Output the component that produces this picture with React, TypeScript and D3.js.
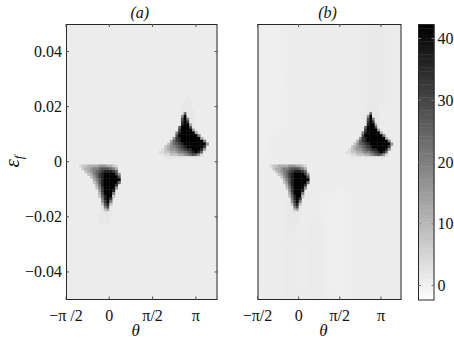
import * as d3 from 'd3'

const PI = Math.PI

// axis domains
const thetaDomain: [number, number] = [-PI / 2, (5 * PI) / 4]
const epsDomain: [number, number] = [-0.05, 0.05]
const colorDomain: [number, number] = [-2.35, 42.35]

// tick values and labels
const epsTicks = [-0.04, -0.02, 0, 0.02, 0.04]
const epsTickLabels = ['−0.04', '−0.02', '0', '0.02', '0.04']
const thetaTicks = [-PI / 2, 0, PI / 2, PI]
const thetaTickLabelsA = ['−π /2', '0', 'π/2', 'π']
const thetaTickLabelsB = ['−π/2', '0', 'π/2', 'π']
const colorTicks = [0, 10, 20, 30, 40]

// heatmap cells: 0.1 rad by 0.001 in eps_f
const cellTheta = 0.1
const cellEps = 0.001
const backgroundLevel = 1

// blob near theta = 0, eps_f < 0. columns from theta = -1.1, rows from eps_f = 0 downward
// '.' background, ',' faint, digits d -> 4d, '#' -> 42
const lowerBlobTheta0 = -1.1
const lowerBlobEpsTop = 0
const lowerBlobRows = [
  '................',
  '12233334443321..',
  '.2334556777653..',
  '..234567899986..',
  '...235689####84.',
  '....24689#####7.',
  '.....3579######.',
  '.....2479#####6.',
  '......369####8..',
  '......258####4..',
  '.......48###9...',
  '.......37###5...',
  '.......269##2...',
  '........59#8....',
  '........48#5....',
  '........2792....',
  '........,57,....',
  '........,23,....',
  '........,,,,....',
  '.......,,,,,....',
  '.......,,,,.....',
  '.......,,,,.....',
  '........,,......',
]

// blob near theta = pi, eps_f > 0. columns from theta = 1.6, rows from eps_f = 0.024 downward
const upperBlobTheta0 = 1.6
const upperBlobEpsTop = 0.024
const upperBlobRows = [
  '............,.......',
  '...........,,.......',
  '...........,,,......',
  '..........,,,,......',
  '..........,,,,......',
  '..........,,,,,.....',
  '..........,6,,,.....',
  '..........4#,,,.....',
  '..........7#5,,.....',
  '..........8#8,,.....',
  '..........9##3,.....',
  '.........6###7,.....',
  '.........8####4,....',
  '........59#####3....',
  '........7#######5...',
  '.......489#######3..',
  '......3689########5.',
  '.....246789########4',
  '....23456789######8.',
  '...12344567899###94.',
  '..1122334556789#96,.',
  '...,11222334567641..',
  '....,,,,,,,,,,,,,...',
]

// faint ridge along eps_f = 0 in panel (a)
const ridgeTheta = [-PI / 2, (5 * PI) / 4]
const ridgeEps = [-0.0004, 0.0004]
const ridgeLevel = 1.35

// panel (b) slowly varying background: columns of 0.5 rad from -pi/2, rows of 0.01 from eps_f = 0.05
const bgTheta0 = -PI / 2
const bgCellTheta = 0.5
const bgCellEps = 0.01
const bgRowsB = [
  'llmmmmmmddm',
  'llmmmmmmddm',
  'llmmmmmmddm',
  'llmmmmmmdmm',
  'lmmmmmmmmmm',
  'mmmmmmmmmmm',
  'mmdmmllmmmm',
  'mmdmdllmmmm',
  'mmdmdllmmmm',
  'mmdmdllmmmm',
]
const bgLevels: Record<string, number> = { l: 0.5, m: 1, d: 1.5 }

const levelOf = (ch: string): number | null => {
  if (ch === '.') return null
  if (ch === ',') return 1.7
  if (ch === '#') return 42
  return +ch * 4
}

const color = d3.scaleLinear<string>().domain(colorDomain).range(['#ffffff', '#000000']).clamp(true)

const FONT = "'Liberation Serif', 'DejaVu Serif', serif"
const TOP = 24
const BOTTOM = 299.5

const yScale = d3.scaleLinear().domain(epsDomain).range([BOTTOM, TOP])

type Cell = { t0: number; t1: number; e0: number; e1: number; v: number }

const blobCells = (rows: string[], theta0: number, epsTop: number): Cell[] => {
  const cells: Cell[] = []
  rows.forEach((row, j) => {
    row.split('').forEach((ch, i) => {
      const v = levelOf(ch)
      if (v === null) return
      const t0 = theta0 + i * cellTheta
      const e1 = epsTop - j * cellEps
      cells.push({ t0, t1: t0 + cellTheta, e0: e1 - cellEps, e1, v })
    })
  })
  return cells
}

const Panel = ({ id, left, right, tickLabels, title, showY, ridge, bgRows }: {
  id: string; left: number; right: number; tickLabels: string[]; title: string
  showY: boolean; ridge: boolean; bgRows?: string[]
}) => {
  const x = d3.scaleLinear().domain(thetaDomain).range([left, right])
  const cells = [
    ...blobCells(lowerBlobRows, lowerBlobTheta0, lowerBlobEpsTop),
    ...blobCells(upperBlobRows, upperBlobTheta0, upperBlobEpsTop),
  ]
  const bgCells: Cell[] = []
  if (bgRows) {
    bgRows.forEach((row, j) => {
      row.split('').forEach((ch, i) => {
        const t0 = bgTheta0 + i * bgCellTheta
        const e1 = epsDomain[1] - j * bgCellEps
        bgCells.push({ t0, t1: t0 + bgCellTheta, e0: e1 - bgCellEps, e1, v: bgLevels[ch] })
      })
    })
  }
  const rectOf = (c: Cell, k: number, pad = 0.4) => (
    <rect
      key={k}
      x={x(c.t0)}
      y={yScale(c.e1)}
      width={x(c.t1) - x(c.t0) + pad}
      height={yScale(c.e0) - yScale(c.e1) + pad}
      fill={color(c.v)}
    />
  )
  const tl = 3
  return (
    <g>
      <defs>
        <clipPath id={`clip-${id}`}>
          <rect x={left} y={TOP} width={right - left} height={BOTTOM - TOP} />
        </clipPath>
        <filter id={`soft-${id}`} x="-5%" y="-5%" width="110%" height="110%">
          <feGaussianBlur stdDeviation={0.6} />
        </filter>
        <filter id={`bgsoft-${id}`} x="-20%" y="-20%" width="140%" height="140%">
          <feGaussianBlur stdDeviation={5} />
        </filter>
      </defs>
      <g clipPath={`url(#clip-${id})`}>
        <rect x={left - 10} y={TOP - 10} width={right - left + 20} height={BOTTOM - TOP + 20} fill={color(backgroundLevel)} />
        {bgRows && <g filter={`url(#bgsoft-${id})`}>{bgCells.map((c, k) => rectOf(c, k, 0.5))}</g>}
        <g filter={`url(#soft-${id})`}>
          {ridge && rectOf({ t0: ridgeTheta[0], t1: ridgeTheta[1], e0: ridgeEps[0], e1: ridgeEps[1], v: ridgeLevel }, -1, 0)}
          {cells.map((c, k) => rectOf(c, k))}
        </g>
      </g>
      <rect x={left + 0.5} y={TOP + 0.5} width={right - left - 1} height={BOTTOM - TOP - 0.5} fill="none" stroke="#262626" strokeWidth={1} />
      {thetaTicks.map((t, i) => (
        <g key={i}>
          <line x1={x(t)} x2={x(t)} y1={BOTTOM} y2={BOTTOM - tl} stroke="#555" />
          <line x1={x(t)} x2={x(t)} y1={TOP} y2={TOP + tl} stroke="#555" />
          <text x={x(t)} y={321} textAnchor="middle" fontFamily={FONT} fontSize={16} fill="#111">{tickLabels[i]}</text>
        </g>
      ))}
      {showY && epsTicks.map((e, i) => (
        <g key={i}>
          <line x1={left} x2={left + tl} y1={yScale(e)} y2={yScale(e)} stroke="#555" />
          <line x1={right} x2={right - tl} y1={yScale(e)} y2={yScale(e)} stroke="#555" />
          <text x={left - 4} y={yScale(e) + 5.5} textAnchor="end" fontFamily={FONT} fontSize={16} fill="#111">{epsTickLabels[i]}</text>
        </g>
      ))}
      <text x={(left + right) / 2 - 2} y={17.5} textAnchor="middle" fontFamily={FONT} fontStyle="italic" fontSize={16} fill="#111">{title}</text>
      <text x={(left + right) / 2 - 6} y={336} textAnchor="middle" fontFamily={FONT} fontStyle="italic" fontSize={17} fill="#111">θ</text>
    </g>
  )
}

const ColorBar = ({ left, right }: { left: number; right: number }) => {
  const cy = d3.scaleLinear().domain(colorDomain).range([BOTTOM + 0.5, TOP])
  const steps = d3.range(64)
  const dv = (colorDomain[1] - colorDomain[0]) / 64
  return (
    <g>
      {steps.map((k) => {
        const v0 = colorDomain[0] + k * dv
        return (
          <rect key={k} x={left} y={cy(v0 + dv)} width={right - left} height={cy(v0) - cy(v0 + dv) + 0.4} fill={color(v0 + dv / 2)} />
        )
      })}
      <rect x={left + 0.5} y={TOP + 0.5} width={right - left - 1} height={BOTTOM - TOP} fill="none" stroke="#262626" />
      {colorTicks.map((t) => (
        <g key={t}>
          <line x1={left} x2={left + 3} y1={cy(t)} y2={cy(t)} stroke="#777" />
          <line x1={right} x2={right - 3} y1={cy(t)} y2={cy(t)} stroke="#777" />
          <text x={right + 3} y={cy(t) + 5.5} fontFamily={FONT} fontSize={16} fill="#111">{t}</text>
        </g>
      ))}
    </g>
  )
}

export default function App() {
  return (
    <svg width={454} height={342} style={{ position: 'absolute', left: 0, top: 0, background: '#fff' }}>
      <Panel id="a" left={66} right={217.5} tickLabels={thetaTickLabelsA} title="(a)" showY ridge />
      <Panel id="b" left={257.5} right={401.5} tickLabels={thetaTickLabelsB} title="(b)" showY={false} ridge={false} bgRows={bgRowsB} />
      <ColorBar left={418} right={434.5} />
      <text transform="translate(19,161.5) rotate(-90)" textAnchor="middle" fontFamily={FONT} fontStyle="italic" fontSize={21} fill="#111">
        ε<tspan fontSize={13} dy={4}>f</tspan>
      </text>
    </svg>
  )
}
